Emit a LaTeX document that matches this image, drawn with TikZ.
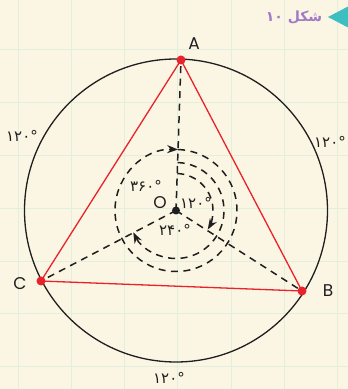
\documentclass[tikz,border=0pt]{standalone}
\usepackage{fontspec}
\setmainfont{Poppins}
\newfontfamily\fa[Script=Arabic]{DejaVu Sans}
\usetikzlibrary{arrows.meta}
\TeXXeTstate=1
\definecolor{bg}{HTML}{FBF5E3}
\definecolor{gridc}{HTML}{E4EEDD}
\definecolor{tri}{HTML}{E8232B}
\definecolor{ttl}{HTML}{A07BC6}
\definecolor{teal}{HTML}{3DBEC0}
\definecolor{ink}{HTML}{1E1E1E}
\tikzset{
  gridline/.style={draw=gridc, line width=1pt},
  dline/.style={draw=ink, line width=1.5pt, dash pattern=on 7pt off 5.5pt},
  darc/.style={dline, -{Stealth[length=11pt,width=8pt]}},
  side/.style={draw=tri, line width=1.3pt},
  reddot/.style={fill=tri},
  lbl/.style={text=ink, font=\fontsize{17}{20}\selectfont, inner sep=0pt},
  deg/.style={text=ink, font=\fa\fontsize{15}{17}\selectfont, inner sep=0pt},
  ttlnode/.style={text=ttl, font=\fa\bfseries\fontsize{14}{16}\selectfont, inner sep=0pt}
}
\begin{document}
\begin{tikzpicture}[x=1pt,y=1pt]
\useasboundingbox (0,0) rectangle (348,389);
\fill[bg] (0,0) rectangle (348,389);
\foreach \x in {18,71.3,124.6,177.9,231.2,284.5,337.8}
  \draw[gridline] (\x,0) -- (\x,389);
\foreach \y in {339,286.2,233.4,180.6,127.8,75,22.2}
  \draw[gridline] (0,\y) -- (348,\y);
% title
\fill[teal] (328,372) -- (349,383) -- (349,361) -- cycle;
\node[ttlnode] (title) at (294,372) {۱۰ \beginR شکل\endR};
% points
\coordinate (O) at (176,178.5);
\coordinate (A) at (181,329);
\coordinate (B) at (302,98);
\coordinate (C) at (41,108);
\draw[draw=ink, line width=1.3pt] (O) circle (151.5);
\draw[dline] (O) -- (A);
\draw[dline] (O) -- (B);
\draw[dline] (O) -- (C);
\draw[side] (A) -- (B) -- (C) -- cycle;
% arcs
\draw[darc] ([shift={(88:61)}]O) arc[start angle=88, end angle=-272, radius=61];
\draw[darc] ([shift={(88:48)}]O) arc[start angle=88, end angle=-153, radius=48];
\draw[darc] ([shift={(88:37)}]O) arc[start angle=88, end angle=-31, radius=37];
% dots
\fill[reddot] (A) circle (4.5);
\fill[reddot] (B) circle (4.5);
\fill[reddot] (C) circle (4.5);
\fill[ink] (O) circle (4);
% labels
\node[lbl] (lA) at (194,345) {A};
\node[lbl] (lB) at (328,98) {B};
\node[lbl] (lC) at (20,105) {C};
\node[lbl] (lO) at (160,186) {O};
\node[deg] (d360) at (146,203) {۳۶۰°};
\node[deg] (d120) at (196,186) {۱۲۰°};
\node[deg] (d240) at (175,159) {۲۴۰°};
\node[deg] (oL) at (22,253) {۱۲۰°};
\node[deg] (oR) at (330,247) {۱۲۰°};
\node[deg] (oB) at (169,11) {۱۲۰°};
\end{tikzpicture}
\end{document}
